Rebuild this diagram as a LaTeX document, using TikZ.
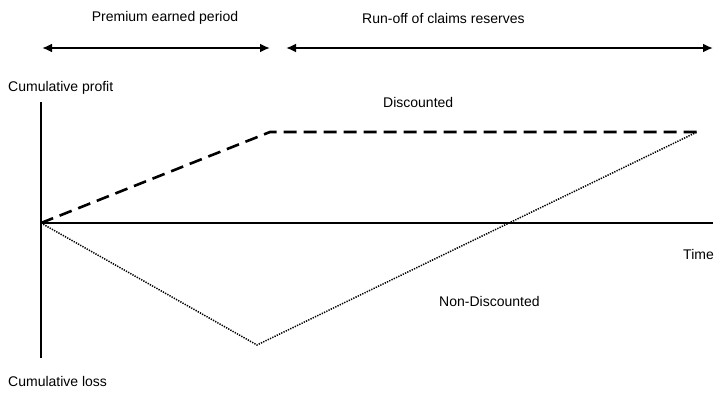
\documentclass[tikz,border=0pt]{standalone}
\usepackage{fontspec}
\setmainfont{Liberation Sans}
\usetikzlibrary{arrows.meta}
\begin{document}
\begin{tikzpicture}[x=1pt,y=-1pt,
  lbl/.style={inner sep=0pt,font=\fontsize{14}{16}\selectfont},
  axis/.style={line width=2.2pt},
  span/.style={line width=2.2pt,{Latex[length=10pt,width=9pt]}-{Latex[length=10pt,width=9pt]}},
  disc/.style={line width=2.6pt,dash pattern=on 13pt off 7pt},
  nondisc/.style={line width=1.5pt,dash pattern=on 1.3pt off 1.2pt}]
\useasboundingbox (0,0) rectangle (717,399);
% axes
\coordinate (O) at (41,223);
\coordinate (ytop) at (41,102);
\coordinate (ybot) at (41,358);
\coordinate (xend) at (713,223);
\draw[axis] (ytop) -- (ybot);
\draw[axis] (O) -- (xend);
% period arrows
\coordinate (p1a) at (42,48);
\coordinate (p1b) at (270,48);
\coordinate (p2a) at (286,48);
\coordinate (p2b) at (713,48);
\draw[span] (p1a) -- (p1b);
\draw[span] (p2a) -- (p2b);
% profit curves
\coordinate (dk) at (270,132);
\coordinate (nk) at (257,345);
\coordinate (fin) at (697,132);
\draw[disc] (O) -- (dk) -- (fin);
\draw[nondisc] (O) -- (nk) -- (fin);
% labels
\node[lbl] (tp) at (165,18) {Premium earned period};
\node[lbl,anchor=west] (tr) at (362,18) {Run-off of claims reserves};
\node[lbl,anchor=west] (cp) at (8,88) {Cumulative profit};
\node[lbl,anchor=west] (cl) at (8,381) {Cumulative loss};
\node[lbl,anchor=west] (ld) at (383,102) {Discounted};
\node[lbl,anchor=east] (lt) at (714,254) {Time};
\node[lbl,anchor=west] (ln) at (439,301) {Non-Discounted};
\end{tikzpicture}
\end{document}
